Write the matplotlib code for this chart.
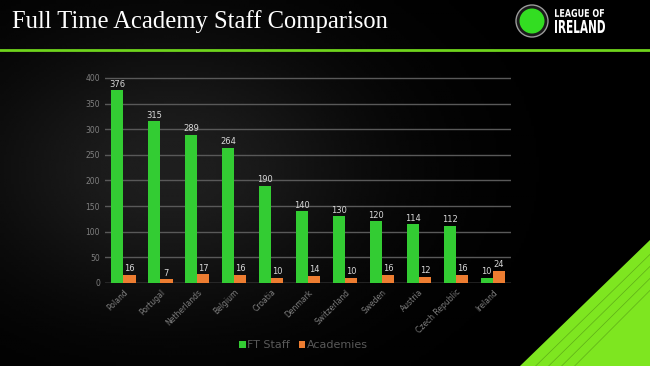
import numpy as np
import matplotlib.pyplot as plt
from matplotlib.patches import Polygon, Circle, PathPatch
from matplotlib.textpath import TextPath
from matplotlib.font_manager import FontProperties
from matplotlib.transforms import Affine2D

countries = ['Poland', 'Portugal', 'Netherlands', 'Belgium', 'Croatia', 'Denmark',
             'Switzerland', 'Sweden', 'Austria', 'Czech Republic', 'Ireland']
ft_staff = [376, 315, 289, 264, 190, 140, 130, 120, 114, 112, 10]
academies = [16, 7, 17, 16, 10, 14, 10, 16, 12, 16, 24]

green = '#33cc33'
orange = '#ed7d31'
grey_txt = '#7f7f7f'

fig = plt.figure(figsize=(6.5, 3.66), dpi=100)
fig.patch.set_facecolor('black')

# background layer in pixel coords
bg = fig.add_axes([0, 0, 1, 1])
bg.set_xlim(0, 650)
bg.set_ylim(366, 0)
bg.axis('off')
xx, yy = np.meshgrid(np.linspace(0, 650, 260), np.linspace(0, 366, 150))
shade = np.exp(-(((xx - 170) / 200) ** 2 + ((yy - 170) / 140) ** 2)) * 0.12
bg.imshow(shade, extent=[0, 650, 366, 0], cmap='gray', vmin=0, vmax=1, aspect='auto', zorder=0)

# green line under the title
bg.plot([0, 650], [50, 50], color='#6fd41c', lw=2, zorder=2)

# green streak lower right
bg.add_patch(Polygon([[520, 366], [650, 240], [650, 366]], closed=True,
                     facecolor='#7ee620', edgecolor='none', zorder=1))
for k in range(4):
    off = 12 + k * 10
    bg.plot([520 + off * 1.3, 650], [366, 240 + off * 1.2], color='#4a8a12', lw=0.5, alpha=0.6, zorder=1)

# title
bg.text(12, 22, 'Full Time Academy Staff Comparison', color='white', fontsize=17.7,
        family='Liberation Serif', va='center', ha='left', zorder=3)

# logo
bg.add_patch(Circle((532, 21), 16, facecolor='#1a1a1a', edgecolor='#9a9a9a', lw=1, zorder=3))
bg.add_patch(Circle((532, 21), 12.5, facecolor='#33dd22', edgecolor='none', zorder=4))


def condensed(txt, x0, y_base, cap_h, width):
    fp = FontProperties(family='DejaVu Sans', weight='bold')
    tp = TextPath((0, 0), txt, size=10, prop=fp)
    ext = tp.get_extents()
    sx = width / ext.width
    sy = cap_h / ext.height
    tr = Affine2D().translate(-ext.x0, -ext.y0).scale(sx, -sy).translate(x0, y_base)
    bg.add_patch(PathPatch(tr.transform_path(tp), facecolor='white', edgecolor='none', zorder=3))


condensed('LEAGUE OF', 555, 17, 8, 49)
condensed('IRELAND', 555, 33, 13, 50)

# chart
ax = fig.add_axes([0.1615, 0.227, 0.625, 0.563])
ax.set_facecolor('none')
x = np.arange(len(countries))
w = 0.33
b1 = ax.bar(x - w / 2, ft_staff, w, color=green, label='FT Staff', zorder=3)
b2 = ax.bar(x + w / 2, academies, w, color=orange, label='Academies', zorder=3)
for rect, v in zip(b1, ft_staff):
    ax.text(rect.get_x() + rect.get_width() / 2, v + 3, str(v), ha='center', va='bottom',
            color='#d9d9d9', fontsize=6)
for rect, v in zip(b2, academies):
    ax.text(rect.get_x() + rect.get_width() / 2, v + 3, str(v), ha='center', va='bottom',
            color='#d9d9d9', fontsize=6)

ax.set_xlim(-0.5, len(countries) - 0.5)
ax.set_ylim(0, 402)
ax.set_yticks(range(0, 401, 50))
ax.yaxis.grid(True, color='#595959', lw=1)
ax.set_axisbelow(True)
for s in ax.spines.values():
    s.set_visible(False)
ax.axhline(0, color='#595959', lw=1, zorder=2)
ax.tick_params(axis='both', length=0, colors=grey_txt, labelsize=5.5)
ax.set_xticks(x)
ax.set_xticklabels(countries, rotation=45, ha='right', rotation_mode='anchor')

leg = fig.legend(loc='center', bbox_to_anchor=(0.467, 0.057), ncol=2, frameon=False,
                 fontsize=8, labelcolor='#595959', handlelength=0.55, handleheight=0.55,
                 handletextpad=0.15, columnspacing=0.8)

fig.savefig('out.png', dpi=100, facecolor='black')
